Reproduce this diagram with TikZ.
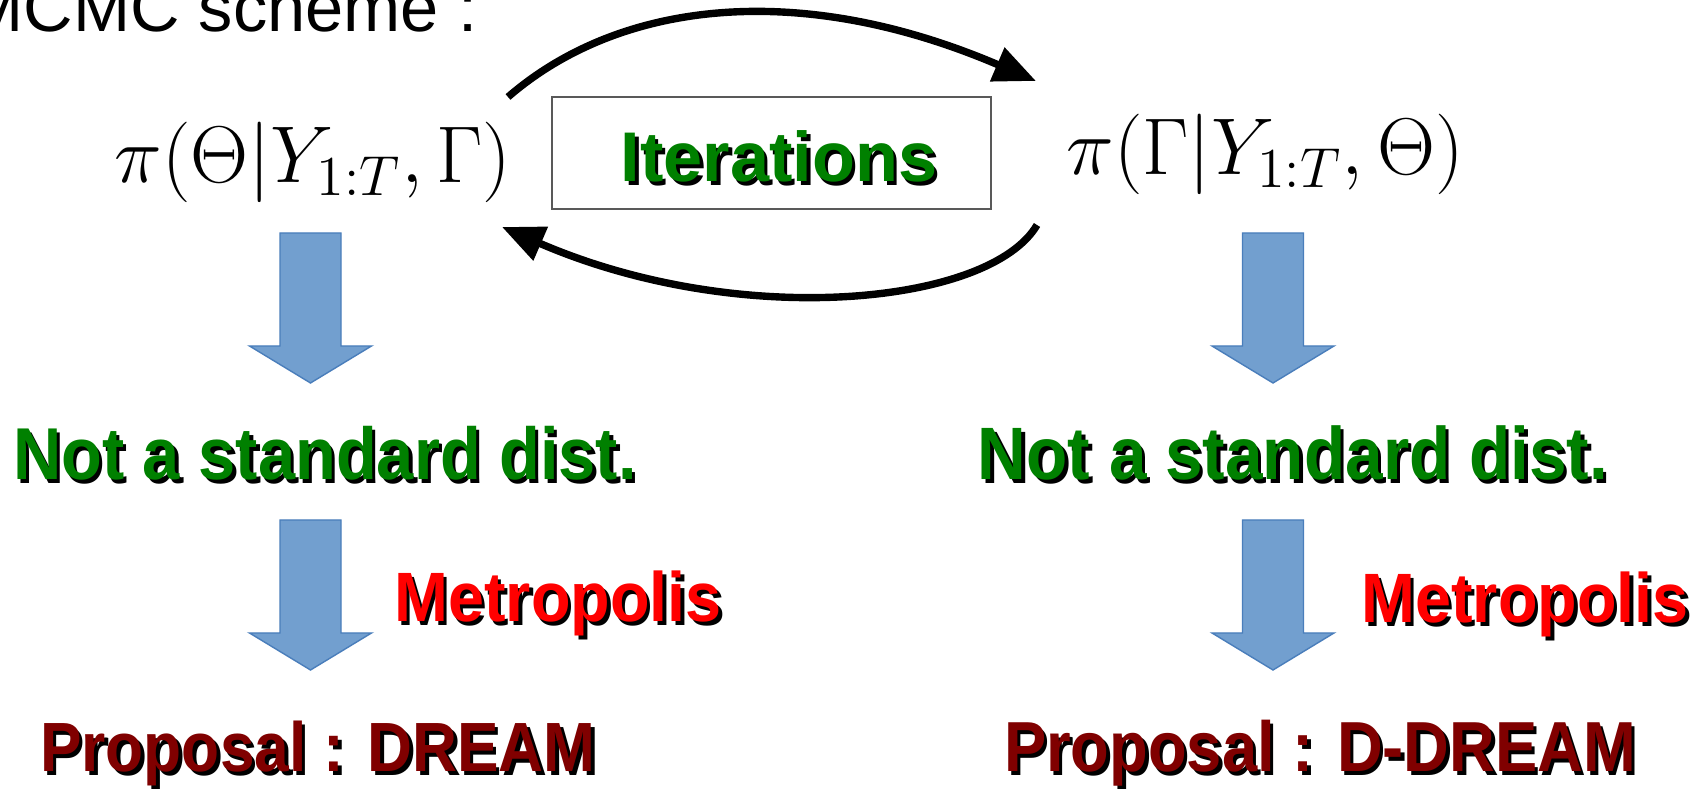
\RequirePackage{fix-cm}
\documentclass[tikz,border=0pt]{standalone}
\usepackage[no-math]{fontspec}
\usepackage{graphicx}
\usetikzlibrary{arrows.meta}
\newfontfamily\comic{Liberation Sans}
\definecolor{tgreen}{HTML}{008000}
\definecolor{tred}{HTML}{FF0000}
\definecolor{tdred}{HTML}{800000}
\definecolor{blockblue}{HTML}{729FCF}
\definecolor{blockline}{HTML}{4A7EBB}
\newcommand\shad[2]{{\leavevmode\rlap{\kern1pt\raisebox{-1pt}{\color{black}#2}}\color{#1}#2}}
\begin{document}
\begin{tikzpicture}[x=0.01cm,y=-0.01cm,
  lbl/.style={inner sep=0pt, anchor=base},
  mathlbl/.style={lbl, font=\fontsize{22.9}{27}\selectfont},
  loopline/.style={line width=2.1pt, -{Triangle[length=12pt,width=10pt]}},
  blockarrow/.pic={\fill[blockblue, draw=blockline, line width=0.4pt]
     (-30.5,0) -- (30.5,0) -- (30.5,113) -- (61,113) -- (0,150) -- (-61,113) -- (-30.5,113) -- cycle;}
]
\useasboundingbox (0,0) rectangle (1700,789);
\fill[white] (0,0) rectangle (1700,789);

% title
\node[inner sep=0pt, anchor=base east, font=\comic\fontsize{19.5}{23}\selectfont] (title) at (478,32) {MCMC scheme :};

% formulas
\node[mathlbl] (lf) at (313,183) {$\pi(\Theta|Y_{1:T},\Gamma)$};
\node[mathlbl] (rf) at (1265,175) {$\pi(\Gamma|Y_{1:T},\Theta)$};

% iterations box
\node[draw=black!65, line width=0.5pt, minimum width=4.39cm, minimum height=1.12cm, inner sep=0pt] (box) at (771.5,153) {};
\node[lbl, font=\comic\bfseries\fontsize{20}{24}\selectfont] (it) at (779,182) {\shad{tgreen}{Iterations}};

% loop arrows
\coordinate (ts) at (508,97);
\coordinate (te) at (1036,81);
\coordinate (bs) at (1037,225);
\coordinate (be) at (502,227);
\draw[loopline] (ts) .. controls (620,0) and (800,-20) .. (te);
\draw[loopline] (bs) .. controls (990,305) and (740,330) .. (be);

% block arrows
\pic at (310.5,233) {blockarrow};
\pic at (310.5,520) {blockarrow};
\pic at (1273,233) {blockarrow};
\pic at (1273,520) {blockarrow};

% texts
\node[lbl, font=\comic\bfseries\fontsize{19}{23}\selectfont] (nl) at (325,480) {\scalebox{1}[1.1]{\shad{tgreen}{Not a standard dist.}}};
\node[lbl, font=\comic\bfseries\fontsize{19.2}{23}\selectfont] (nr) at (1293,480) {\scalebox{1}[1.1]{\shad{tgreen}{Not a standard dist.}}};
\node[lbl, font=\comic\bfseries\fontsize{18.4}{22}\selectfont] (ml) at (558,622) {\scalebox{1}[1.08]{\shad{tred}{Metropolis}}};
\node[lbl, font=\comic\bfseries\fontsize{18.4}{22}\selectfont] (mr) at (1525,623) {\scalebox{1}[1.08]{\shad{tred}{Metropolis}}};
\node[lbl, font=\comic\bfseries\fontsize{17.7}{21}\selectfont] (pl) at (318,772) {\scalebox{1}[1.12]{\shad{tdred}{Proposal : DREAM}}};
\node[lbl, font=\comic\bfseries\fontsize{18}{21}\selectfont] (pr) at (1320,772) {\scalebox{1}[1.12]{\shad{tdred}{Proposal : D-DREAM}}};
\end{tikzpicture}
\end{document}
